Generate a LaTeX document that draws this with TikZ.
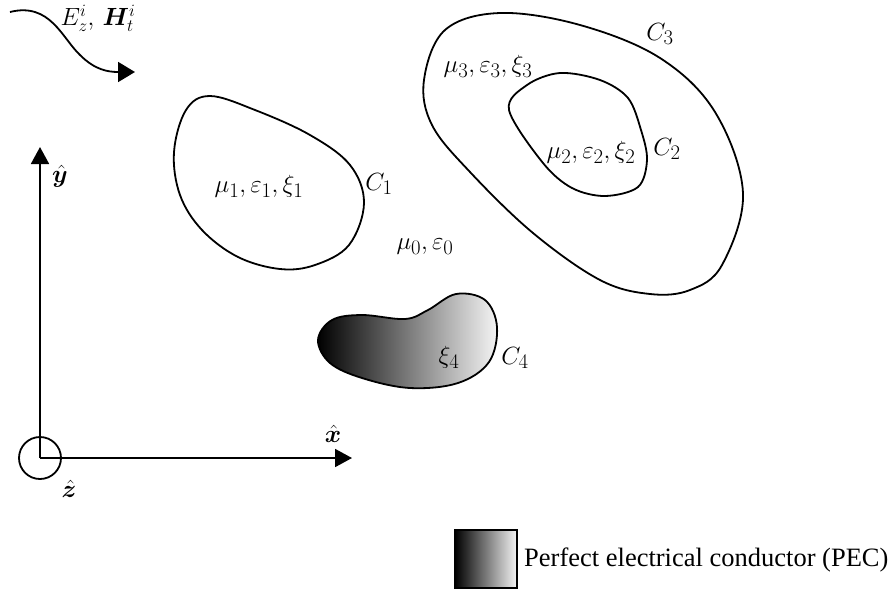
\documentclass[tikz,border=0pt]{standalone}
\usepackage{amsmath}
\usepackage{bm}
\usepackage[no-math]{fontspec}
\setmainfont{Liberation Serif}
\usetikzlibrary{arrows.meta}
\begin{document}
\begin{tikzpicture}[x=1pt,y=-1pt,
  curve/.style={line width=1.8pt, line join=round},
  axis/.style={line width=1.8pt, -{Triangle[length=17pt,width=18pt]}},
  lbl/.style={font=\fontsize{26.5}{30}\selectfont, inner sep=0pt},
  mlbl/.style={font=\fontsize{29}{33}\selectfont, inner sep=0pt},
  pec/.style={left color=black, right color=gray!8, shading angle=90}]
\useasboundingbox (0,0) rectangle (896,590);
% incident wave
\coordinate (w0) at (10,12);
\coordinate (w1) at (135,72);
\draw[line width=1.8pt, -{Triangle[length=17pt,width=20pt]}] (w0) .. controls (50,2) and (62,38) .. (80,55) .. controls (95,70) and (108,72) .. (w1);
\node[lbl] (inc) at (98,18) {$E_z^i,\,\bm{H}_t^i$};
% axes
\coordinate (O) at (40,458);
\coordinate (ytip) at (40,147);
\coordinate (xtip) at (352,458);
\draw[axis] (O) -- (ytip);
\draw[axis] (O) -- (xtip);
\draw[line width=1.8pt] (O) circle (21);
\node[lbl] (yh) at (60,176) {$\hat{\bm{y}}$};
\node[lbl] (xh) at (333,434) {$\hat{\bm{x}}$};
\node[lbl] (zh) at (69,489) {$\hat{\bm{z}}$};
% C1
\draw[curve] plot[smooth cycle, tension=0.6] coordinates {(210,96) (255,110) (310,135) (350,165) (364,203) (349,245) (315,265) (280,269) (238,257) (202,230) (180,195) (174,152) (186,110)};
\node[mlbl] (m1) at (259,186) {$\mu_1,\varepsilon_1,\xi_1$};
\node[mlbl] (c1) at (379,184) {$C_1$};
% C3 and C2
\draw[curve] plot[smooth cycle, tension=0.6] coordinates {(424,80) (445,30) (500,13) (580,25) (660,58) (715,112) (743,193) (722,265) (690,290) (650,294) (600,280) (533,233) (470,172) (432,125)};
\draw[curve] plot[smooth cycle, tension=0.55] coordinates {(509,110) (527,85) (560,73) (600,80) (628,98) (641,130) (647,160) (638,187) (605,196) (572,188) (543,163)};
\node[mlbl] (m3) at (488,66) {$\mu_3,\varepsilon_3,\xi_3$};
\node[mlbl] (c3) at (660,34) {$C_3$};
\node[mlbl] (m2) at (591,152) {$\mu_2,\varepsilon_2,\xi_2$};
\node[mlbl] (c2) at (667,149) {$C_2$};
\node[mlbl] (m0) at (425,247) {$\mu_0,\varepsilon_0$};
% C4 PEC
\shade[pec, draw, curve] plot[smooth cycle, tension=0.6] coordinates {(318,340) (332,320) (362,315) (405,319) (428,310) (456,294) (485,300) (497,327) (489,362) (458,383) (410,388) (362,378) (330,363)};
\node[mlbl] (x4) at (449,357) {$\xi_4$};
\node[mlbl] (c4) at (515,358) {$C_4$};
% legend
\shade[pec, draw, line width=1.2pt] (455,530) rectangle (517,588);
\node[lbl, anchor=west] (leg) at (524,560) {Perfect electrical conductor (PEC)};
\end{tikzpicture}
\end{document}
